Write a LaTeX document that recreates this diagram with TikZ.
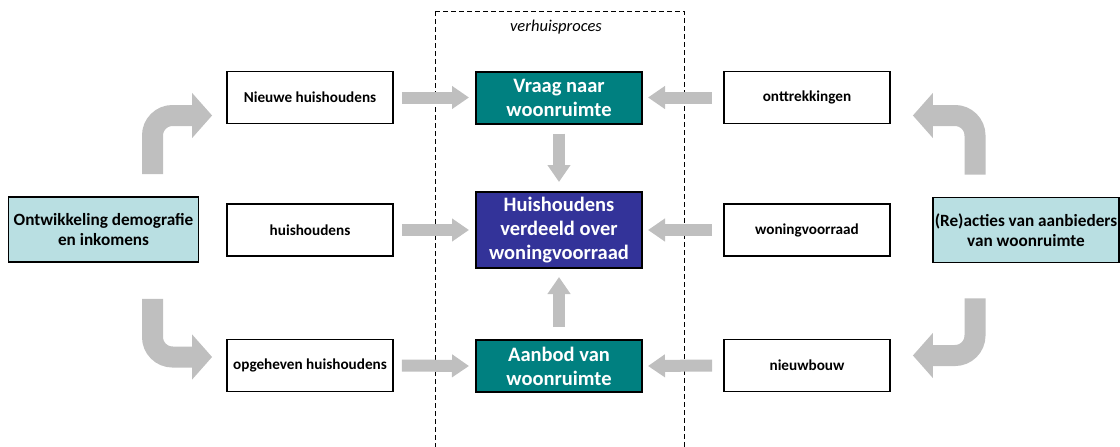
\documentclass[tikz,border=0pt]{standalone}
\usepackage{fontspec}
\setmainfont{Carlito}
\usetikzlibrary{arrows.meta,calc}
\definecolor{teal1}{HTML}{008080}
\definecolor{navy1}{HTML}{333399}
\definecolor{lblue}{HTML}{B9DFE2}
\definecolor{garr}{HTML}{BFBFBF}
\tikzset{
  whitebox/.style={draw=black, line width=1.8pt, fill=white, minimum width=166pt, minimum height=52pt, inner sep=0pt, font=\bfseries\fontsize{15.2}{18}\selectfont, align=center},
  centerbox/.style={draw=black, line width=2pt, text=white, minimum width=166pt, inner sep=0pt, font=\bfseries\fontsize{20.5}{24}\selectfont, align=center},
  sidebox/.style={draw=black, line width=1.8pt, fill=lblue, minimum height=65pt, inner sep=0pt, font=\bfseries\fontsize{17.2}{20.5}\selectfont, align=center},
  garrow/.style={draw=garr, line width=12pt, -{Triangle[length=17pt,width=22pt]}},
  bentarrow/.style={draw=garr, line width=21pt, rounded corners=20pt, -{Triangle[length=20pt,width=44pt]}},
}
\begin{document}
\begin{tikzpicture}[x=1pt,y=-1pt]
\useasboundingbox (0,0) rectangle (1120,447);
\draw[dash pattern=on 5pt off 3pt, line width=0.9pt] (435,11) -- (684,11) -- (684,460) (435,11) -- (435,460);
\node[font=\itshape\fontsize{16.5}{19}\selectfont] (title) at (556,27) {verhuisproces};

\node[sidebox, minimum width=190pt] (demo) at (103.5,229.5) {Ontwikkeling demografie\\en inkomens};
\node[sidebox, minimum width=186pt] (react) at (1026,230) {(Re)acties van aanbieders\\van woonruimte};

\node[whitebox] (nieuwe) at (310,97.5) {Nieuwe huishoudens};
\node[whitebox] (huis) at (310,230) {huishoudens};
\node[whitebox] (opg) at (310,365.5) {opgeheven huishoudens};

\node[whitebox] (ontt) at (807,97.5) {onttrekkingen};
\node[whitebox] (wvr) at (807,230) {woningvoorraad};
\node[whitebox] (nieuwb) at (807,365.5) {nieuwbouw};

\node[centerbox, fill=teal1, minimum height=52pt] (vraag) at (559,97.5) {Vraag naar\\woonruimte};
\node[centerbox, fill=navy1, minimum height=76pt] (verd) at (559,230) {Huishoudens\\verdeeld over\\woningvoorraad};
\node[centerbox, fill=teal1, minimum height=52pt] (aanbod) at (559,366) {Aanbod van\\woonruimte};

\draw[garrow] ([xshift=8pt]nieuwe.east) -- ([xshift=-6pt]vraag.west);
\draw[garrow] ([xshift=8pt]huis.east) -- ([xshift=-6pt]verd.west);
\draw[garrow] ([xshift=8pt]opg.east) -- ([xshift=-6pt]aanbod.west);
\draw[garrow] ([xshift=-11pt]ontt.west) -- ([xshift=5pt]vraag.east);
\draw[garrow] ([xshift=-11pt]wvr.west) -- ([xshift=5pt]verd.east);
\draw[garrow] ([xshift=-11pt]nieuwb.west) -- ([xshift=5pt]aanbod.east);
\draw[garrow] ([yshift=-9pt]vraag.south) -- ([yshift=9pt]verd.north);
\draw[garrow] ([yshift=12pt]aanbod.north) -- ([yshift=-8pt]verd.south);

\draw[bentarrow] ([xshift=49pt,yshift=22pt]demo.north) |- ([xshift=-14pt,yshift=-18pt]nieuwe.west);
\draw[bentarrow] ([xshift=49pt,yshift=-36pt]demo.south) |- ([xshift=-14pt,yshift=8.5pt]opg.west);
\draw[bentarrow] ([xshift=-51pt,yshift=22pt]react.north) |- ([xshift=22pt,yshift=-18pt]ontt.east);
\draw[bentarrow] ([xshift=-51pt,yshift=-35pt]react.south) |- ([xshift=22pt,yshift=10pt]nieuwb.east);
\end{tikzpicture}
\end{document}
